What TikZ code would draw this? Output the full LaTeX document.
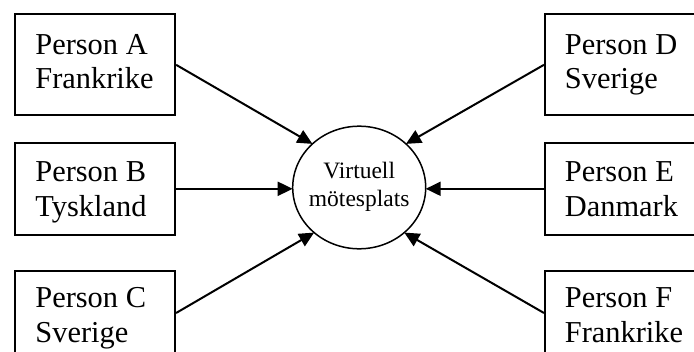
\documentclass[tikz,border=0pt]{standalone}
\usepackage{fontspec}
\setmainfont{Liberation Serif}
\usetikzlibrary{shapes.geometric,arrows.meta}
\begin{document}
\begin{tikzpicture}[x=0.5pt,y=-0.5pt,
  personbox/.style={draw, line width=1pt, rectangle, anchor=north west,
    minimum width=80.2pt, inner sep=0pt},
  personlabel/.style={anchor=base west, inner sep=0pt,
    font=\fontsize{15.2}{17.25}\selectfont},
  hub/.style={draw, ellipse, line width=0.75pt, inner sep=0pt, outer sep=0pt,
    minimum width=66.5pt, minimum height=61.3pt},
  hublabel/.style={anchor=base, inner sep=0pt,
    font=\fontsize{11.75}{13.7}\selectfont},
  link/.style={line width=1pt, -{Triangle[length=7.5pt,width=7pt]}}
]
\useasboundingbox (0,0) rectangle (694,352);
\clip (0,0) rectangle (694,352);

% meeting place in the middle
\node[hub] (V) at (359.2,187.5) {};
\node[hublabel] (Vt) at (359.2,178.6)
  {\begin{tabular}[t]{@{}c@{}}Virtuell\\mötesplats\end{tabular}};

% participants on the left
\node[personbox, minimum height=50.4pt] (A) at (13.7,13.4) {};
\node[personbox, minimum height=46.2pt] (B) at (13.7,141.6) {};
\node[personbox, minimum height=42pt]   (C) at (13.7,270) {};
\node[personlabel] (At) at (35,54.5)
  {\begin{tabular}[t]{@{}l@{}}Person A\\Frankrike\end{tabular}};
\node[personlabel] (Bt) at (35,181.6)
  {\begin{tabular}[t]{@{}l@{}}Person B\\Tyskland\end{tabular}};
\node[personlabel] (Ct) at (35,307.5)
  {\begin{tabular}[t]{@{}l@{}}Person C\\Sverige\end{tabular}};

% participants on the right
\node[personbox, minimum height=50.4pt] (D) at (544,13.4) {};
\node[personbox, minimum height=46.2pt] (E) at (544,141.6) {};
\node[personbox, minimum height=42pt]   (F) at (544,270) {};
\node[personlabel] (Dt) at (564.5,54.5)
  {\begin{tabular}[t]{@{}l@{}}Person D\\Sverige\end{tabular}};
\node[personlabel] (Et) at (564.5,181.6)
  {\begin{tabular}[t]{@{}l@{}}Person E\\Danmark\end{tabular}};
\node[personlabel] (Ft) at (564.5,307.5)
  {\begin{tabular}[t]{@{}l@{}}Person F\\Frankrike\end{tabular}};

% everyone connects to the meeting place
\draw[link] (A.east) -- (V.137);
\draw[link] (B.east) -- (B.east -| V.west);
\draw[link] (C.east) -- (V.225);
\draw[link] (D.west) -- (V.43);
\draw[link] (E.west) -- (E.west -| V.east);
\draw[link] (F.west) -- (V.-45);
\end{tikzpicture}
\end{document}
